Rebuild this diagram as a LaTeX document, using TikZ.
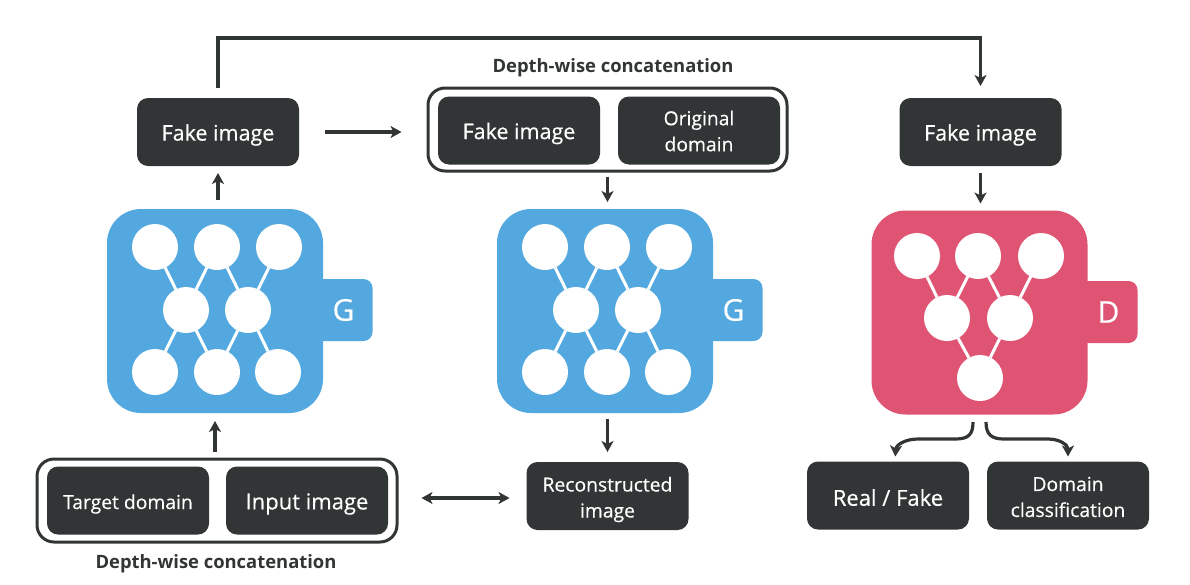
\documentclass[tikz,border=0pt]{standalone}
\usepackage{fontspec}
\setmainfont{Open Sans}
\newfontfamily\boxfont[FakeBold=0.35]{Open Sans}
\usetikzlibrary{arrows.meta}
\definecolor{boxdark}{HTML}{323535}
\definecolor{gblue}{HTML}{53A9DF}
\definecolor{dred}{HTML}{DF5473}
\newcommand{\dn}[2][3pt]{\raisebox{-#1}[\height][\depth]{#2}}
\tikzset{
  darkbox/.style={rectangle,rounded corners=11pt,fill=boxdark,text=white,minimum width=162pt,minimum height=68pt,inner sep=0pt,outer sep=0pt,align=center,font=\boxfont\fontsize{21.5}{26}\selectfont},
  smalltext/.style={font=\boxfont\fontsize{19.3}{26}\selectfont},
  bigtext/.style={font=\boxfont\fontsize{22}{26}\selectfont},
  concat/.style={rectangle,rounded corners=17pt,draw=boxdark,fill=white,line width=3pt,minimum width=357pt,minimum height=80pt,inner sep=0pt,outer sep=1.5pt},
  body/.style={rectangle,rounded corners=34pt,minimum width=216pt,minimum height=204pt,inner sep=0pt,outer sep=0pt},
  tabbox/.style={rectangle,rounded corners=9pt,minimum width=58pt,minimum height=62pt,inner sep=0pt,outer sep=0pt,text=white,font=\boxfont\fontsize{30}{32}\selectfont},
  neuron/.style={circle,fill=white,minimum size=46pt,inner sep=0pt,outer sep=0pt},
  link/.style={draw=white,line width=3pt},
  arr/.style={draw=boxdark,line width=3.2pt,-{Stealth[length=11pt,width=12pt,inset=3pt]}},
  caption/.style={text=boxdark,font=\bfseries\fontsize{18.4}{20}\selectfont,inner sep=0pt}
}
\begin{document}
\begin{tikzpicture}[x=1pt,y=-1pt]
\useasboundingbox (0,0) rectangle (1190,584);
% first generator
\node[tabbox,fill=gblue] (tabA) at (343.5,310) {G};
\node[body,fill=gblue] (gA) at (215,311) {};
\node[neuron] (a1) at (155,247) {};
\node[neuron] (a2) at (217,247) {};
\node[neuron] (a3) at (279,247) {};
\node[neuron] (a4) at (186,310) {};
\node[neuron] (a5) at (248,310) {};
\node[neuron] (a6) at (155,372) {};
\node[neuron] (a7) at (217,372) {};
\node[neuron] (a8) at (278,372) {};
\draw[link] (a1)--(a4) (a2)--(a4) (a2)--(a5) (a3)--(a5) (a4)--(a6) (a4)--(a7) (a5)--(a7) (a5)--(a8);
% second generator
\node[tabbox,fill=gblue] (tabB) at (733.5,310) {G};
\node[body,fill=gblue] (gB) at (605,311) {};
\node[neuron] (b1) at (545,247) {};
\node[neuron] (b2) at (607,247) {};
\node[neuron] (b3) at (669,247) {};
\node[neuron] (b4) at (576,310) {};
\node[neuron] (b5) at (638,310) {};
\node[neuron] (b6) at (545,372) {};
\node[neuron] (b7) at (607,372) {};
\node[neuron] (b8) at (668,372) {};
\draw[link] (b1)--(b4) (b2)--(b4) (b2)--(b5) (b3)--(b5) (b4)--(b6) (b4)--(b7) (b5)--(b7) (b5)--(b8);
% discriminator
\node[tabbox,fill=dred] (tabD) at (1108.5,312) {D};
\node[body,fill=dred] (dB) at (979.5,312.5) {};
\node[neuron] (d1) at (917,256) {};
\node[neuron] (d2) at (978,256) {};
\node[neuron] (d3) at (1041,256) {};
\node[neuron] (d4) at (947,318) {};
\node[neuron] (d5) at (1010,318) {};
\node[neuron] (d6) at (980,378) {};
\draw[link] (d1)--(d4) (d2)--(d4) (d2)--(d5) (d3)--(d5) (d4)--(d6) (d5)--(d6);
% boxes
\node[darkbox] (fakeA) at (218,132) {\dn{Fake image}};
\node[darkbox] (fakeC) at (980.5,132) {\dn{Fake image}};
\node[concat,minimum width=359pt,minimum height=83pt] (concatTop) at (607.5,129.5) {};
\node[darkbox] (fakeB) at (519,130.5) {\dn{Fake image}};
\node[darkbox,smalltext] (orig) at (699,130.5) {\dn[0.5pt]{Original}\\\dn[0.5pt]{domain}};
\node[caption] (capTop) at (613,66) {\dn[2pt]{Depth-wise concatenation}};
\node[concat,minimum width=360pt,minimum height=83pt] (concatBot) at (217,500.5) {};
\node[darkbox,smalltext] (target) at (128,500.5) {\dn[3.5pt]{Target domain}};
\node[darkbox,bigtext] (input) at (307,500.5) {\dn[3.5pt]{Input image}};
\node[caption] (capBot) at (216,562) {\dn[2pt]{Depth-wise concatenation}};
\node[darkbox,smalltext] (recon) at (607.5,496) {\dn[3.5pt]{Reconstructed}\\\dn[3.5pt]{image}};
\node[darkbox,bigtext] (real) at (888,495.5) {\dn[2pt]{Real / Fake}};
\node[darkbox,smalltext] (dom) at (1068,495.5) {\dn[1.5pt]{Domain}\\\dn[1.5pt]{classification}};
% connectors
\coordinate (top) at (600,38);
\coordinate (dbl) at (460,498);
\coordinate (dL) at (973,422);
\coordinate (dR) at (986,422);
\draw[arr,shorten <=9pt,shorten >=7pt] (gA.north -| fakeA) -- (fakeA.south);
\draw[arr,rounded corners=0pt,shorten <=10pt,shorten >=12pt] (fakeA.north) |- (top) -| (fakeC.north);
\draw[arr,shorten <=26pt,shorten >=25pt] (fakeA.east) -- (concatTop.west |- fakeA);
\draw[arr,shorten <=4pt,shorten >=7pt] (concatTop.south) -- (gB.north -| concatTop);
\draw[arr,shorten <=6pt,shorten >=10pt] (gB.south -| recon) -- (recon.north);
\draw[arr,{Stealth[length=11pt,width=12pt,inset=3pt]}-{Stealth[length=11pt,width=12pt,inset=3pt]},shorten <=23pt,shorten >=17pt] (concatBot.east |- dbl) -- (recon.west |- dbl);
\draw[arr,shorten <=6pt,shorten >=8pt] (concatBot.north -| gA) -- (gA.south);
\draw[arr,shorten <=7pt,shorten >=7pt] (fakeC.south) -- (dB.north -| fakeC);
\draw[arr,shorten >=5pt] (dL) .. controls (973,435) and (968,439) .. (955,439) -- (918,439) .. controls (905,439) and (896,445) .. ([xshift=7pt]real.north);
\draw[arr,shorten >=5pt] (dR) .. controls (986,435) and (992,439) .. (1004,439) -- (1048,439) .. controls (1060,439) and (1068,445) .. (dom.north);
\end{tikzpicture}
\end{document}
